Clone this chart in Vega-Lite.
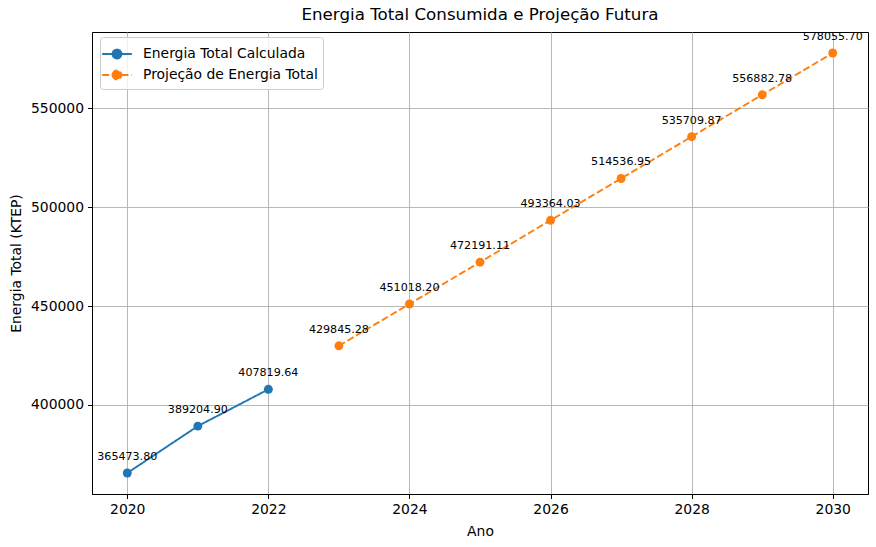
{
  "$schema": "https://vega.github.io/schema/vega-lite/v6.json",
  "autosize": "none",
  "width": 776,
  "height": 462,
  "padding": {"left": 92, "top": 32, "right": 8, "bottom": 53},
  "background": "white",
  "config": {
    "font": "DejaVu Sans",
    "view": {"stroke": "black", "strokeWidth": 1},
    "axis": {
      "labelFont": "DejaVu Sans",
      "titleFont": "DejaVu Sans",
      "labelFontSize": 13.9,
      "titleFontSize": 13.9,
      "titleFontWeight": "normal",
      "labelColor": "black",
      "titleColor": "black",
      "domainColor": "black",
      "tickColor": "black",
      "tickSize": 4.5,
      "gridColor": "#b0b0b0",
      "gridWidth": 0.9
    }
  },
  "title": {
    "text": "Energia Total Consumida e Projeção Futura",
    "font": "DejaVu Sans",
    "fontSize": 16.7,
    "fontWeight": "normal",
    "color": "black",
    "offset": 7
  },
  "data": {
    "values": [
      {"ano": 2020, "energia": 365473.80, "serie": "Energia Total Calculada"},
      {"ano": 2021, "energia": 389204.90, "serie": "Energia Total Calculada"},
      {"ano": 2022, "energia": 407819.64, "serie": "Energia Total Calculada"},
      {"ano": 2023, "energia": 429845.28, "serie": "Projeção de Energia Total"},
      {"ano": 2024, "energia": 451018.20, "serie": "Projeção de Energia Total"},
      {"ano": 2025, "energia": 472191.11, "serie": "Projeção de Energia Total"},
      {"ano": 2026, "energia": 493364.03, "serie": "Projeção de Energia Total"},
      {"ano": 2027, "energia": 514536.95, "serie": "Projeção de Energia Total"},
      {"ano": 2028, "energia": 535709.87, "serie": "Projeção de Energia Total"},
      {"ano": 2029, "energia": 556882.78, "serie": "Projeção de Energia Total"},
      {"ano": 2030, "energia": 578055.70, "serie": "Projeção de Energia Total"}
    ]
  },
  "encoding": {
    "x": {
      "field": "ano", "type": "quantitative",
      "scale": {"domain": [2019.5, 2030.5], "nice": false, "zero": false},
      "axis": {"values": [2020, 2022, 2024, 2026, 2028, 2030], "format": "d", "title": "Ano", "titlePadding": 8, "labelPadding": 4}
    },
    "y": {
      "field": "energia", "type": "quantitative",
      "scale": {"domain": [354845, 588685], "nice": false, "zero": false},
      "axis": {"values": [400000, 450000, 500000, 550000], "format": "d", "title": "Energia Total (KTEP)", "titlePadding": 7, "labelPadding": 4}
    }
  },
  "layer": [
    {
      "mark": {"type": "line", "strokeWidth": 1.9},
      "encoding": {
        "color": {
          "field": "serie", "type": "nominal",
          "scale": {"domain": ["Energia Total Calculada", "Projeção de Energia Total"], "range": ["#1f77b4", "#ff7f0e"]},
          "legend": {
            "title": null,
            "orient": "none",
            "legendX": 8,
            "legendY": 5,
            "labelFont": "DejaVu Sans",
            "labelFontSize": 13.9,
            "labelColor": "black",
            "labelLimit": 400,
            "symbolType": "M -1.4 0 L -0.42 0 M 0.42 0 L 1.4 0 M -0.42 0 A 0.42 0.42 0 1 0 0.42 0 A 0.42 0.42 0 1 0 -0.42 0",
            "symbolSize": 450,
            "symbolStrokeWidth": 1.9,
            "rowPadding": -1,
            "labelOffset": 14,
            "padding": 5,
            "offset": 0,
            "fillColor": "rgba(255,255,255,0.8)",
            "strokeColor": "#cccccc",
            "cornerRadius": 3,
            "encode": {
              "symbols": {"update": {"fill": {"scale": "color", "field": "value"}}}
            }
          }
        },
        "strokeDash": {
          "field": "serie", "type": "nominal",
          "scale": {"domain": ["Energia Total Calculada", "Projeção de Energia Total"], "range": [[1, 0], [7, 3]]},
          "legend": null
        }
      }
    },
    {
      "mark": {"type": "point", "filled": true, "opacity": 1, "size": 80},
      "encoding": {
        "color": {"field": "serie", "type": "nominal", "legend": null}
      }
    },
    {
      "mark": {"type": "text", "dy": -13, "baseline": "alphabetic", "align": "center", "fontSize": 11.1, "font": "DejaVu Sans", "color": "black"},
      "encoding": {
        "text": {"field": "energia", "type": "quantitative", "format": ".2f"}
      }
    }
  ]
}
